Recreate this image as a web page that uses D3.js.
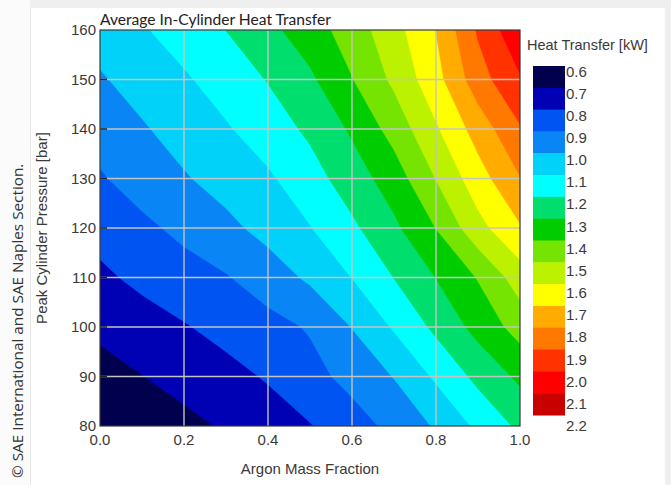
<!DOCTYPE html>
<html>
<head>
<meta charset="utf-8">
<script src="https://cdn.jsdelivr.net/npm/d3@7"></script>
<style>
  body { margin: 0; background: #ffffff; }
  svg { display: block; }
</style>
</head>
<body>
<svg id="chart" width="671" height="485"></svg>
<script>
// Argon mass fraction samples (columns) and peak cylinder pressure samples (rows, bar)
const argonFraction = [0.0, 0.1, 0.2, 0.3, 0.4, 0.5, 0.6, 0.7, 0.8, 0.9, 1.0];
const peakPressure = [80, 90, 100, 110, 120, 130, 140, 150, 160];

// Average in-cylinder heat transfer [kW], one row per peak pressure
const heat80  = [0.610, 0.643, 0.674, 0.711, 0.753, 0.795, 0.857, 0.927, 1.011, 1.120, 1.220];
const heat90  = [0.665, 0.698, 0.734, 0.770, 0.809, 0.868, 0.931, 1.004, 1.116, 1.226, 1.320];
const heat100 = [0.720, 0.756, 0.793, 0.830, 0.867, 0.909, 1.003, 1.111, 1.222, 1.333, 1.440];
const heat110 = [0.780, 0.824, 0.859, 0.893, 0.950, 1.017, 1.102, 1.202, 1.302, 1.406, 1.550];
const heat120 = [0.835, 0.878, 0.925, 0.975, 1.032, 1.096, 1.181, 1.280, 1.402, 1.567, 1.690];
const heat130 = [0.890, 0.943, 0.991, 1.038, 1.085, 1.159, 1.251, 1.348, 1.503, 1.657, 1.795];
const heat140 = [0.940, 0.990, 1.040, 1.090, 1.150, 1.219, 1.314, 1.438, 1.588, 1.742, 1.890];
const heat150 = [0.990, 1.038, 1.087, 1.144, 1.205, 1.282, 1.396, 1.520, 1.664, 1.856, 1.990];
const heat160 = [1.040, 1.090, 1.145, 1.201, 1.274, 1.352, 1.448, 1.563, 1.702, 1.912, 2.080];
const heatRows = [heat80, heat90, heat100, heat110, heat120, heat130, heat140, heat150, heat160];

// Contour levels and their fill colours
const levels = [0.6, 0.7, 0.8, 0.9, 1.0, 1.1, 1.2, 1.3, 1.4, 1.5, 1.6, 1.7, 1.8, 1.9, 2.0, 2.1, 2.2];
const bandColors = ["#00004f", "#0000b4", "#0055f2", "#0a85f5", "#00d2fa", "#00ffff",
                    "#00de6e", "#00cd00", "#74e400", "#bcf200", "#ffff00", "#ffab00",
                    "#ff7800", "#ff3200", "#ff0000", "#c80000"];

const xTicks = [0.0, 0.2, 0.4, 0.6, 0.8, 1.0];
const yTicks = [80, 90, 100, 110, 120, 130, 140, 150, 160];

const svg = d3.select("#chart");
const W = 671, H = 485;
const plot = { left: 100, right: 520, top: 30, bottom: 426 };

// Page frame
svg.append("rect").attr("width", W).attr("height", H).attr("fill", "#efefef");
svg.append("rect").attr("x", 0).attr("y", 0).attr("width", 30).attr("height", H).attr("fill", "#fbfbfb");
svg.append("rect").attr("x", 31).attr("y", 8).attr("width", 634).attr("height", H - 8).attr("fill", "#ffffff");
svg.append("line").attr("x1", 30.5).attr("x2", 30.5).attr("y1", 8).attr("y2", H)
  .attr("stroke", "#e4e4e4").attr("stroke-width", 1);

const x = d3.scaleLinear().domain([0, 1]).range([plot.left, plot.right]);
const y = d3.scaleLinear().domain([80, 160]).range([plot.bottom, plot.top]);

// Grid-space to data-space mapping (samples sit at cell centres in d3.contours)
const nx = argonFraction.length, ny = peakPressure.length;
const gx = d3.scaleLinear().domain([0.5, nx - 0.5]).range([argonFraction[0], argonFraction[nx - 1]]);
const gy = d3.scaleLinear().domain([0.5, ny - 0.5]).range([peakPressure[0], peakPressure[ny - 1]]);

const values = heatRows.flat();
const contours = d3.contours().size([nx, ny]).thresholds(levels.slice(0, -1))(values);

const proj = d3.geoTransform({
  point: function (px, py) { this.stream.point(x(gx(px)), y(gy(py))); }
});
const path = d3.geoPath(proj);

svg.append("clipPath").attr("id", "plotClip")
  .append("rect")
  .attr("x", plot.left).attr("y", plot.top)
  .attr("width", plot.right - plot.left).attr("height", plot.bottom - plot.top);

const g = svg.append("g").attr("clip-path", "url(#plotClip)");
g.selectAll("path.band")
  .data(contours)
  .join("path")
  .attr("class", "band")
  .attr("d", path)
  .attr("fill", (d, i) => bandColors[i])
  .attr("stroke", (d, i) => bandColors[i])
  .attr("stroke-width", 0.6);

// Grid lines
const grid = svg.append("g").attr("stroke", "#c4c4c4").attr("stroke-width", 1.4);
grid.selectAll("line.vx")
  .data(xTicks.slice(1, -1))
  .join("line")
  .attr("x1", d => x(d)).attr("x2", d => x(d))
  .attr("y1", plot.top).attr("y2", plot.bottom);
grid.selectAll("line.hy")
  .data(yTicks.slice(1, -1))
  .join("line")
  .attr("x1", plot.left).attr("x2", plot.right)
  .attr("y1", d => y(d)).attr("y2", d => y(d));

// Short inward tick marks on the pressure axis
svg.append("g").selectAll("line")
  .data(yTicks.slice(1, -1))
  .join("line")
  .attr("x1", plot.left).attr("x2", plot.left + 7)
  .attr("y1", d => y(d)).attr("y2", d => y(d))
  .attr("stroke", "#202020").attr("stroke-width", 1.5);

// Plot frame
svg.append("rect")
  .attr("x", plot.left).attr("y", plot.top)
  .attr("width", plot.right - plot.left).attr("height", plot.bottom - plot.top)
  .attr("fill", "none").attr("stroke", "#3a3a3a").attr("stroke-width", 1.2);

const tickFont = "Liberation Sans, Arial, sans-serif";

// Axis tick labels
svg.append("g").selectAll("text")
  .data(xTicks)
  .join("text")
  .attr("x", d => x(d)).attr("y", plot.bottom + 19)
  .attr("text-anchor", "middle")
  .attr("font-family", tickFont).attr("font-size", 15).attr("fill", "#3a3a3a")
  .text(d => d3.format(".1f")(d));

svg.append("g").selectAll("text")
  .data(yTicks)
  .join("text")
  .attr("x", plot.left - 4).attr("y", d => y(d) + 5)
  .attr("text-anchor", "end")
  .attr("font-family", tickFont).attr("font-size", 15).attr("fill", "#3a3a3a")
  .text(d => d);

// Axis titles
svg.append("text")
  .attr("x", x(0.5)).attr("y", 474)
  .attr("text-anchor", "middle")
  .attr("font-family", tickFont).attr("font-size", 15).attr("fill", "#3a3a3a")
  .text("Argon Mass Fraction");

svg.append("text")
  .attr("transform", `translate(47,${(plot.top + plot.bottom) / 2}) rotate(-90)`)
  .attr("text-anchor", "middle")
  .attr("font-family", tickFont).attr("font-size", 15).attr("fill", "#3a3a3a")
  .text("Peak Cylinder Pressure [bar]");

// Chart title
svg.append("text")
  .attr("x", plot.left).attr("y", 25)
  .attr("font-family", "Lato, Open Sans, sans-serif").attr("font-size", 15.6).attr("fill", "#222")
  .text("Average In-Cylinder Heat Transfer");

// Colour legend
const legendBox = d3.scaleLinear().domain([0.6, 2.2]).range([66, 415]);
const legendLabel = d3.scaleLinear().domain([0.6, 2.2]).range([76.5, 431]);
const legend = svg.append("g");
legend.selectAll("rect")
  .data(bandColors)
  .join("rect")
  .attr("x", 533).attr("width", 32)
  .attr("y", (d, i) => legendBox(levels[i]))
  .attr("height", (d, i) => legendBox(levels[i + 1]) - legendBox(levels[i]) + 0.5)
  .attr("fill", d => d);
legend.selectAll("text")
  .data(levels)
  .join("text")
  .attr("x", 566).attr("y", d => legendLabel(d))
  .attr("font-family", tickFont).attr("font-size", 15).attr("fill", "#3a3a3a")
  .text(d => d3.format(".1f")(d));
svg.append("text")
  .attr("x", 527).attr("y", 50)
  .attr("font-family", tickFont).attr("font-size", 14.5).attr("fill", "#3a3a3a")
  .text("Heat Transfer [kW]");

// Copyright line along the left edge
svg.append("text")
  .attr("transform", `translate(23,478) rotate(-90)`)
  .attr("font-family", "Open Sans, sans-serif").attr("font-size", 15.3).attr("fill", "#333")
  .text("© SAE International and SAE Naples Section.");
</script>
</body>
</html>
